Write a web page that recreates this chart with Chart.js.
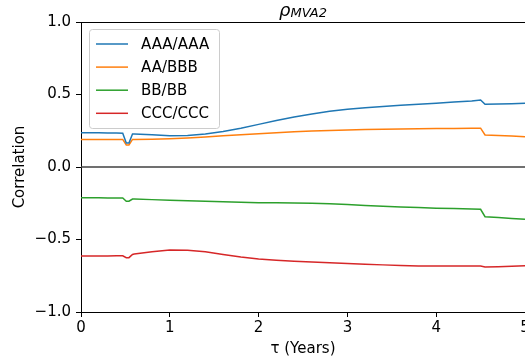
<!DOCTYPE html>
<html>
<head>
<meta charset="utf-8">
<script src="https://cdn.jsdelivr.net/npm/chart.js@4/dist/chart.umd.min.js"></script>
<style>
  html, body { margin: 0; padding: 0; background: #fff; }
  #wrap { width: 525px; height: 363px; }
</style>
</head>
<body>
<div id="wrap"><canvas id="c" width="525" height="363"></canvas></div>
<script>
const tau = [0, 0.1, 0.2, 0.3, 0.4, 0.47, 0.51, 0.54, 0.58, 0.6, 0.8, 1.0, 1.2, 1.4, 1.6, 1.8, 2.0, 2.2, 2.4, 2.6, 2.8, 3.0, 3.2, 3.4, 3.6, 3.8, 4.0, 4.2, 4.4, 4.5, 4.55, 4.7, 4.85, 5.0];
const seriesNames = ['AAA/AAA', 'AA/BBB', 'BB/BB', 'CCC/CCC'];
const aaaAaa = [0.237, 0.236, 0.236, 0.235, 0.234, 0.233, 0.165, 0.165, 0.228, 0.228, 0.222, 0.216, 0.218, 0.228, 0.245, 0.268, 0.294, 0.320, 0.345, 0.366, 0.384, 0.398, 0.408, 0.418, 0.426, 0.433, 0.440, 0.448, 0.456, 0.462, 0.432, 0.434, 0.437, 0.439];
const aaBbb = [0.190, 0.190, 0.190, 0.190, 0.190, 0.190, 0.152, 0.152, 0.190, 0.190, 0.192, 0.195, 0.200, 0.207, 0.215, 0.223, 0.230, 0.237, 0.243, 0.248, 0.252, 0.256, 0.258, 0.260, 0.262, 0.263, 0.265, 0.266, 0.268, 0.268, 0.221, 0.217, 0.213, 0.209];
const bbBb = [-0.212, -0.212, -0.212, -0.213, -0.213, -0.214, -0.236, -0.236, -0.221, -0.221, -0.225, -0.229, -0.233, -0.237, -0.240, -0.243, -0.246, -0.247, -0.248, -0.250, -0.254, -0.259, -0.265, -0.271, -0.276, -0.280, -0.284, -0.287, -0.290, -0.292, -0.343, -0.349, -0.356, -0.361];
const cccCcc = [-0.614, -0.614, -0.613, -0.613, -0.612, -0.612, -0.625, -0.625, -0.603, -0.600, -0.585, -0.573, -0.574, -0.585, -0.603, -0.620, -0.634, -0.643, -0.650, -0.656, -0.661, -0.666, -0.670, -0.675, -0.679, -0.682, -0.683, -0.683, -0.683, -0.683, -0.690, -0.688, -0.684, -0.681];
const xTicks = [0, 1, 2, 3, 4, 5];
const yTicks = [-1.0, -0.5, 0.0, 0.5, 1.0];
const colors = ['#1f77b4', '#ff7f0e', '#2ca02c', '#d62728'];

const FONT = 'DejaVu Sans';
const allSeries = [aaaAaa, aaBbb, bbBb, cccCcc];
const datasets = allSeries.map((s, i) => ({
  label: seriesNames[i],
  data: tau.map((t, j) => ({ x: t, y: s[j] })),
  borderColor: colors[i],
  backgroundColor: colors[i],
  borderWidth: 1.5,
  pointRadius: 0,
  tension: 0,
  fill: false
}));

const fmtY = v => (v < 0 ? '\u2212' : '') + Math.abs(v).toFixed(1);

const framePlugin = {
  id: 'frame',
  beforeDatasetsDraw(chart) {
    const { ctx, chartArea: a, scales: { y } } = chart;
    ctx.save();
    const y0 = y.getPixelForValue(0);
    ctx.strokeStyle = '#404040';
    ctx.lineWidth = 1.6;
    ctx.beginPath(); ctx.moveTo(a.left, y0); ctx.lineTo(a.right, y0); ctx.stroke();
    ctx.restore();
  },
  afterDatasetsDraw(chart) {
    const { ctx, chartArea: a } = chart;
    ctx.save();
    ctx.strokeStyle = '#000';
    ctx.lineWidth = 1;
    ctx.beginPath(); ctx.moveTo(a.left, a.top + 0.5); ctx.lineTo(a.right, a.top + 0.5); ctx.stroke();
    ctx.restore();
  },
  afterDraw(chart) {
    const { ctx, chartArea: a } = chart;
    ctx.save();
    const cx = (a.left + a.right) / 2;
    ctx.fillStyle = '#000';
    ctx.textBaseline = 'alphabetic';
    const rho = '\u03c1';
    const sub = 'MVA2';
    ctx.font = 'italic 18px ' + FONT;
    const wr = ctx.measureText(rho).width;
    ctx.font = 'italic 13px ' + FONT;
    const ws = ctx.measureText(sub).width;
    const x0 = cx - (wr + ws) / 2;
    ctx.textAlign = 'left';
    ctx.font = 'italic 18px ' + FONT;
    ctx.fillText(rho, x0, 16);
    ctx.font = 'italic 13px ' + FONT;
    ctx.fillText(sub, x0 + wr, 17);

    const lx = 89.5, ly = 29.5, lw = 130, lh = 99;
    ctx.fillStyle = 'rgba(255,255,255,0.8)';
    ctx.strokeStyle = '#cccccc';
    ctx.lineWidth = 1;
    const r = 3;
    ctx.beginPath();
    ctx.moveTo(lx + r, ly);
    ctx.lineTo(lx + lw - r, ly); ctx.quadraticCurveTo(lx + lw, ly, lx + lw, ly + r);
    ctx.lineTo(lx + lw, ly + lh - r); ctx.quadraticCurveTo(lx + lw, ly + lh, lx + lw - r, ly + lh);
    ctx.lineTo(lx + r, ly + lh); ctx.quadraticCurveTo(lx, ly + lh, lx, ly + lh - r);
    ctx.lineTo(lx, ly + r); ctx.quadraticCurveTo(lx, ly, lx + r, ly);
    ctx.closePath(); ctx.fill(); ctx.stroke();
    ctx.font = '15px ' + FONT;
    ctx.textBaseline = 'middle';
    chart.data.datasets.forEach((ds, i) => {
      const yy = 44 + i * 23.1;
      ctx.strokeStyle = ds.borderColor;
      ctx.lineWidth = 1.5;
      ctx.beginPath(); ctx.moveTo(96, yy); ctx.lineTo(128, yy); ctx.stroke();
      ctx.fillStyle = '#000';
      ctx.fillText(ds.label, 141, yy + 1);
    });
    ctx.restore();
  }
};

new Chart(document.getElementById('c'), {
  type: 'line',
  data: { datasets },
  options: {
    responsive: false,
    animation: false,
    devicePixelRatio: 1,
    layout: { padding: { top: 22, right: 0, bottom: 0, left: 0 } },
    plugins: { legend: { display: false }, tooltip: { enabled: false }, title: { display: false } },
    scales: {
      x: {
        type: 'linear', min: 0, max: 5,
        afterFit(s) { s.height = 51; s.paddingLeft = 0; s.paddingRight = 0; },
        afterBuildTicks(s) { s.ticks = xTicks.map(v => ({ value: v })); },
        ticks: { color: '#000', font: { family: FONT, size: 15 }, padding: 2, maxRotation: 0, autoSkip: false,
                 callback: v => String(v) },
        grid: { drawOnChartArea: false, drawTicks: true, tickLength: 5, color: '#000', tickWidth: 1 },
        border: { display: true, color: '#000', width: 1 },
        title: { display: true, text: '\u03c4 (Years)', color: '#000', font: { family: FONT, size: 15 }, padding: { top: 0, bottom: 5 } }
      },
      y: {
        type: 'linear', min: -1, max: 1,
        afterFit(s) { s.width = 81; s.paddingTop = 0; s.paddingBottom = 0; },
        afterBuildTicks(s) { s.ticks = yTicks.map(v => ({ value: v })); },
        ticks: { color: '#000', font: { family: FONT, size: 15 }, padding: 5, autoSkip: false, callback: v => fmtY(v) },
        grid: { drawOnChartArea: false, drawTicks: true, tickLength: 5, color: '#000', tickWidth: 1 },
        border: { display: true, color: '#000', width: 1 },
        title: { display: true, text: 'Correlation', color: '#000', font: { family: FONT, size: 15 }, padding: { top: 11, bottom: 0 } }
      }
    }
  },
  plugins: [framePlugin]
});
</script>
</body>
</html>
